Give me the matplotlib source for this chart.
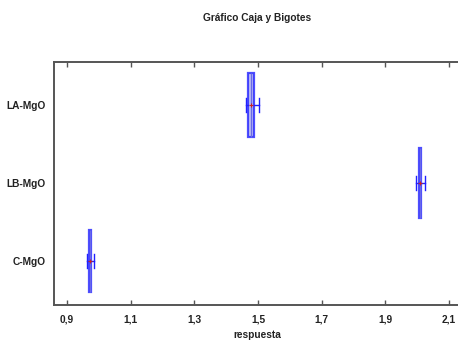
import matplotlib
matplotlib.use('Agg')
import matplotlib.pyplot as plt
from matplotlib.ticker import FuncFormatter

# box-and-whisker summaries
groups = ['C-MgO', 'LB-MgO', 'LA-MgO']
q1 = [0.970, 2.007, 1.468]
med = [0.972, 2.009, 1.477]
q3 = [0.974, 2.011, 1.489]
whis_lo = [0.964, 1.996, 1.462]
whis_hi = [0.985, 2.025, 1.502]
means = [0.972, 2.010, 1.478]
box_sizes = [0.80, 0.90, 0.82]
xticks = [0.9, 1.1, 1.3, 1.5, 1.7, 1.9, 2.1]

plt.rcParams['font.family'] = ['Liberation Sans Narrow', 'Liberation Sans', 'DejaVu Sans']
fs = 7.3

fig = plt.figure(figsize=(4.58, 3.45), dpi=100)
ax = fig.add_axes([54 / 458, 40 / 345, 406 / 458, 243 / 345])

stats = []
for i, g in enumerate(groups):
    stats.append({'label': g, 'q1': q1[i], 'med': med[i], 'q3': q3[i],
                  'whislo': whis_lo[i], 'whishi': whis_hi[i], 'mean': means[i],
                  'fliers': []})

blue = '#2020ff'
ax.bxp(stats, positions=[1, 2, 3], widths=box_sizes, orientation='horizontal',
       patch_artist=True, showmeans=True, capwidths=0.18,
       boxprops=dict(facecolor='#b4b4ee', edgecolor=blue, linewidth=1.6, alpha=0.8),
       medianprops=dict(color='#6a6ae8', linewidth=1.0),
       whiskerprops=dict(color=blue, linewidth=1.0),
       capprops=dict(color=blue, linewidth=1.0),
       meanprops=dict(marker='+', markeredgecolor='#cc2222', markersize=3, markeredgewidth=0.8))

ax.set_xlim(0.8592, 2.1346)
ax.set_ylim(0.436, 3.55)
ax.set_xticks(xticks)
ax.xaxis.set_major_formatter(FuncFormatter(lambda v, p: f'{v:.1f}'.replace('.', ',')))
ax.set_yticks([1, 2, 3])
ax.set_yticklabels(groups)

ax.tick_params(axis='x', direction='in', top=True, bottom=True, length=3.5,
               width=1.0, color='#555555', labelsize=fs, pad=7)
ax.tick_params(axis='y', length=0, labelsize=fs, pad=6)
for lab in ax.get_xticklabels() + ax.get_yticklabels():
    lab.set_fontweight('bold')
    lab.set_color('#222222')
for s in ['left', 'top', 'bottom']:
    ax.spines[s].set_color('#555555')
    ax.spines[s].set_linewidth(1.4)
ax.spines['right'].set_visible(False)

ax.set_xlabel('respuesta', fontsize=fs, fontweight='bold', color='#222222', labelpad=4)
fig.text(257 / 458, 1 - 18 / 345, 'Gráfico Caja y Bigotes', ha='center', va='center',
         fontsize=fs, fontweight='bold', color='#222222')

fig.savefig('out.png', dpi=100)
